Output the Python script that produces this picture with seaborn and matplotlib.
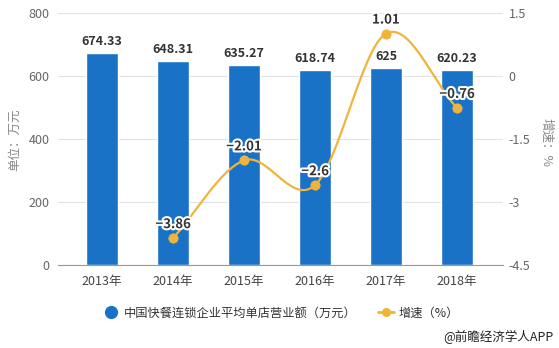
import numpy as np
import pandas as pd
import matplotlib
matplotlib.use("Agg")
import matplotlib.pyplot as plt
import matplotlib.patheffects as pe
from matplotlib.lines import Line2D
import seaborn as sns

years = ["2013年", "2014年", "2015年", "2016年", "2017年", "2018年"]
revenue = [674.33, 648.31, 635.27, 618.74, 625, 620.23]
growth_years = ["2014年", "2015年", "2016年", "2017年", "2018年"]
growth = [-3.86, -2.01, -2.6, 1.01, -0.76]
revenue_labels = ["674.33", "648.31", "635.27", "618.74", "625", "620.23"]
growth_labels = ["−3.86", "−2.01", "−2.6", "1.01", "−0.76"]

sns.set_style("white")
plt.rcParams['font.family'] = ['Noto Sans CJK SC', 'DejaVu Sans']

BAR = "#1a72c6"
LINE = "#f0b43a"
GRID = "#e3e3e3"
TXT = "#666666"

fig = plt.figure(figsize=(5.59, 3.48), dpi=100)
ax = fig.add_axes([58/559, 1-265/348, (503-58)/559, (265-13)/348])

df = pd.DataFrame({"year": years, "rev": revenue})
sns.barplot(data=df, x="year", y="rev", color=BAR, saturation=1, width=0.45, ax=ax)
ax.set_xlim((58-102)/71, (503-102)/71)
ax.set_ylim(0, 800)
ax.set_yticks([0, 200, 400, 600, 800])
ax.set_xlabel("")
ax.set_ylabel("")
ax.grid(axis="y", color=GRID, linewidth=0.8)
ax.set_axisbelow(True)
for s in ["top", "right", "left"]:
    ax.spines[s].set_visible(False)
ax.spines["bottom"].set_color("#999999")
ax.spines["bottom"].set_linewidth(0.8)
ax.tick_params(axis="y", length=0, labelsize=9, labelcolor=TXT, pad=6)
ax.tick_params(axis="x", length=5, color="#999999", labelsize=9, labelcolor="#444444", pad=2)

for i, (v, lab) in enumerate(zip(revenue, revenue_labels)):
    ax.annotate(lab, (i, v), xytext=(0, 5), textcoords="offset pixels",
                ha="center", va="bottom", fontsize=9, fontweight="bold", color="#333333")

ax2 = ax.twinx()
ax2.set_ylim(-4.5, 1.5)
ax2.set_yticks([-4.5, -3, -1.5, 0, 1.5])
ax2.set_yticklabels(["-4.5", "-3", "-1.5", "0", "1.5"])
for s in ["top", "right", "left", "bottom"]:
    ax2.spines[s].set_visible(False)
ax2.tick_params(axis="y", length=0, labelsize=9, labelcolor=TXT, pad=4)

gx = np.array([years.index(y) for y in growth_years], dtype=float)
gy = np.array(growth, dtype=float)

# smooth curve (Catmull-Rom) through the data points
pts = np.column_stack([gx, gy])
ext = np.vstack([2*pts[0]-pts[1], pts, 2*pts[-1]-pts[-2]])
curve = []
for k in range(1, len(ext)-2):
    p0, p1, p2, p3 = ext[k-1], ext[k], ext[k+1], ext[k+2]
    t = np.linspace(0, 1, 40)[:, None]
    c = 0.5*((2*p1) + (-p0+p2)*t + (2*p0-5*p1+4*p2-p3)*t**2 + (-p0+3*p1-3*p2+p3)*t**3)
    curve.append(c)
curve = np.vstack(curve)
ax2.plot(curve[:, 0], curve[:, 1], color=LINE, linewidth=1.6, zorder=3)
gdf = pd.DataFrame({"x": gx, "g": gy})
sns.scatterplot(data=gdf, x="x", y="g", color=LINE, s=45, edgecolor=LINE, zorder=4, ax=ax2)
ax2.set_xlabel("")
ax2.set_ylabel("")

for x, v, lab in zip(gx, gy, growth_labels):
    ax2.annotate(lab, (x, v), xytext=(0, 7), textcoords="offset pixels",
                 ha="center", va="bottom", fontsize=9.5, fontweight="bold", color="#333333",
                 path_effects=[pe.withStroke(linewidth=3, foreground="white")], zorder=5)

fig.text(15/559, 1-140/348, "单位：万元", rotation=90, ha="center", va="center",
         fontsize=9, color="#888888")
fig.text(546/559, 1-143/348, "增速：%", rotation=270, ha="center", va="center",
         fontsize=9, color="#888888")

handles = [
    Line2D([], [], marker="o", linestyle="none", color=BAR, markersize=8.5),
    Line2D([], [], marker="o", linestyle="-", color=LINE, markersize=5.5, linewidth=2),
]
fig.legend(handles, ["中国快餐连锁企业平均单店营业额（万元）", "增速（%）"],
           loc="center", bbox_to_anchor=(281/559, 1-313/348), ncol=2, frameon=False,
           fontsize=8.8, handlelength=1.3, handletextpad=0.35, columnspacing=1.8,
           labelcolor="#333333", borderpad=0, borderaxespad=0)

fig.text(553/559, 1-337/348, "@前瞻经济学人APP", ha="right", va="center",
         fontsize=9, color="#222222")

fig.savefig("out.png", dpi=100)
